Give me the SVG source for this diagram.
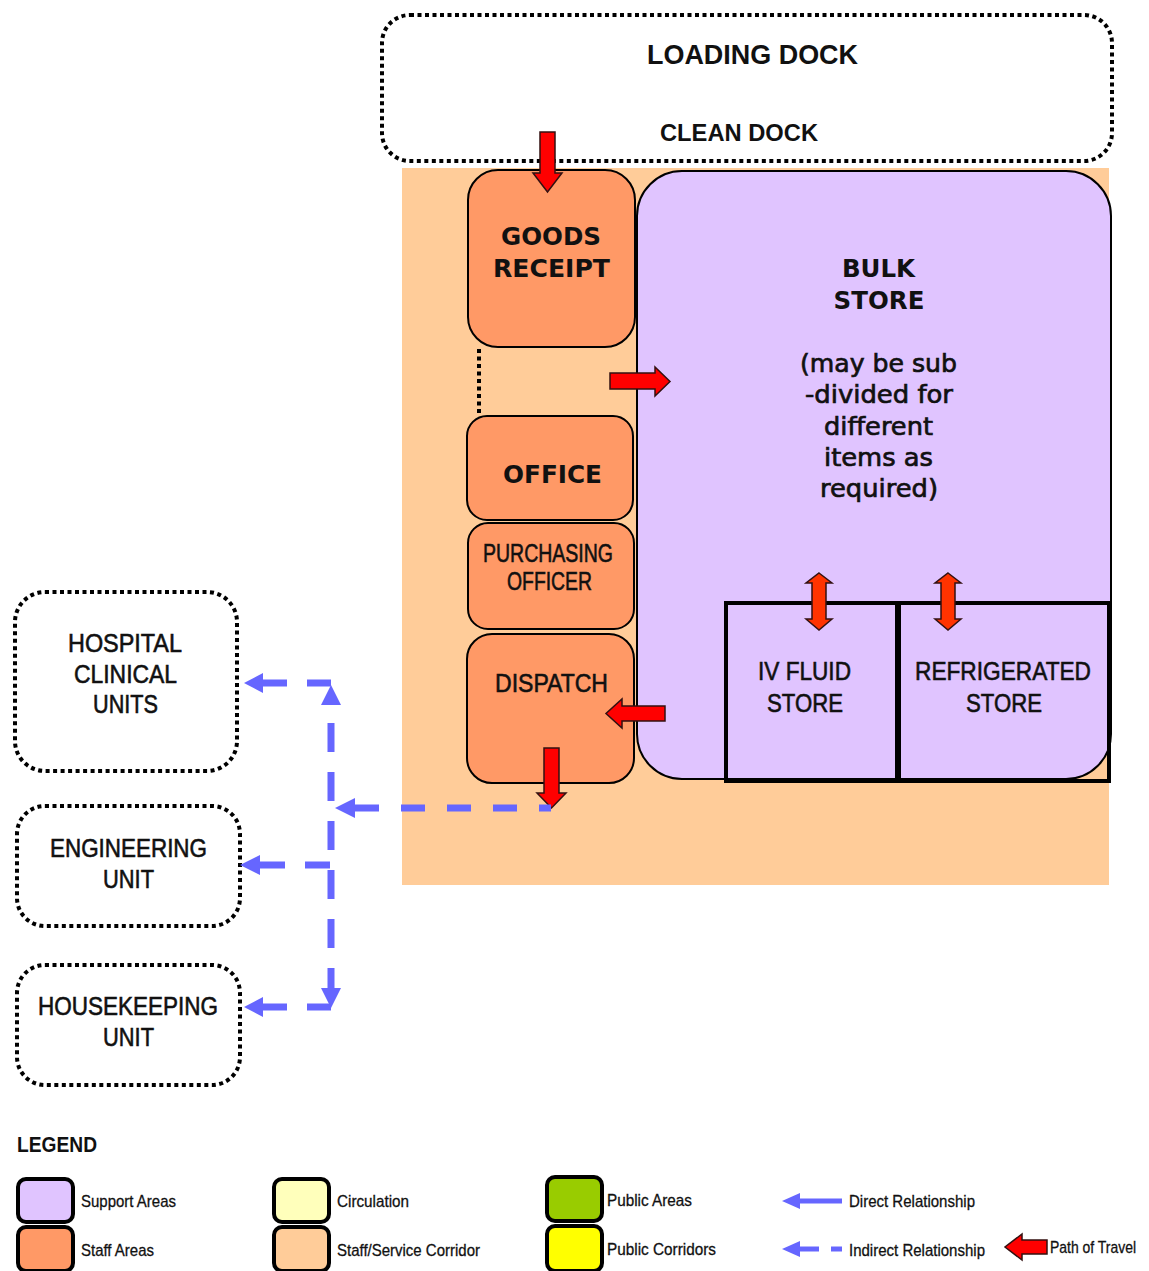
<svg xmlns="http://www.w3.org/2000/svg" width="1149" height="1271" viewBox="0 0 1149 1271">
<style>
.dot{fill:#fff;stroke:#000;stroke-width:4;stroke-dasharray:4 3.5}
.staff{fill:#FF9966;stroke:#000;stroke-width:2}
.sup{fill:#E0C4FF;stroke:#000;stroke-width:2}
.sub{fill:none;stroke:#000;stroke-width:4}
.red{fill:#FF0000;stroke:#331111;stroke-width:1.5;stroke-linejoin:miter}
.red2{fill:#FF3300;stroke:#331111;stroke-width:1.5}
.blue{fill:none;stroke:#6666FF;stroke-width:7}
.bh{fill:#6666FF}
.ar{font-family:"Liberation Sans",Arial,sans-serif;font-size:26px;fill:#111;text-anchor:middle;stroke:#111;stroke-width:0.6}
.vb{font-family:"DejaVu Sans",Verdana,sans-serif;font-weight:bold;font-size:24.5px;fill:#111;text-anchor:middle}
.vr{font-family:"DejaVu Sans",Verdana,sans-serif;font-size:25px;fill:#111;text-anchor:middle;stroke:#111;stroke-width:0.7}
.ab{font-family:"Liberation Sans",Arial,sans-serif;font-weight:bold;fill:#111;text-anchor:middle}
.lg{font-family:"Liberation Sans",Arial,sans-serif;font-size:17px;fill:#111;stroke:#111;stroke-width:0.3}
.sw{stroke:#000;stroke-width:4}
</style>
<rect id="corridor" x="402" y="168" width="707" height="717" fill="#FFCC99"/>
<g id="loading-dock">
<rect class="dot" x="382" y="15" width="730" height="146" rx="28"/>
<text class="ab" x="752.5" y="64" font-size="27" textLength="211" lengthAdjust="spacingAndGlyphs">LOADING DOCK</text>
<text class="ab" x="739" y="141" font-size="24" textLength="158" lengthAdjust="spacingAndGlyphs">CLEAN DOCK</text>
</g>
<g id="bulk-store">
<rect class="sup" x="637" y="171" width="474" height="608" rx="45"/>
<text class="vb" x="878.5" y="277">BULK</text>
<text class="vb" x="879" y="309">STORE</text>
<text class="vr" x="878.5" y="372" textLength="157" lengthAdjust="spacingAndGlyphs">(may be sub</text>
<text class="vr" x="879" y="403" textLength="148" lengthAdjust="spacingAndGlyphs">-divided for</text>
<text class="vr" x="878.5" y="435" textLength="109" lengthAdjust="spacingAndGlyphs">different</text>
<text class="vr" x="878.5" y="466" textLength="109" lengthAdjust="spacingAndGlyphs">items as</text>
<text class="vr" x="879" y="497" textLength="118" lengthAdjust="spacingAndGlyphs">required)</text>
</g>
<g id="iv-fluid-store">
<rect class="sub" x="726" y="603" width="171" height="178"/>
<text class="ar" x="804.5" y="680" font-size="25" textLength="93" lengthAdjust="spacingAndGlyphs">IV FLUID</text>
<text class="ar" x="805" y="712" font-size="25" textLength="76" lengthAdjust="spacingAndGlyphs">STORE</text>
</g>
<g id="refrigerated-store">
<rect class="sub" x="899" y="603" width="210" height="178"/>
<text class="ar" x="1003" y="680" font-size="25" textLength="176" lengthAdjust="spacingAndGlyphs">REFRIGERATED</text>
<text class="ar" x="1004" y="712" font-size="25" textLength="76" lengthAdjust="spacingAndGlyphs">STORE</text>
</g>
<g id="goods-receipt">
<rect class="staff" x="468" y="170" width="167" height="177" rx="30"/>
<text class="vb" x="551" y="245" textLength="100" lengthAdjust="spacingAndGlyphs">GOODS</text>
<text class="vb" x="551.5" y="277" textLength="117" lengthAdjust="spacingAndGlyphs">RECEIPT</text>
</g>
<g id="office">
<rect class="staff" x="467" y="416" width="166" height="104" rx="20"/>
<text class="vb" x="552.5" y="483" font-size="26" textLength="99" lengthAdjust="spacingAndGlyphs">OFFICE</text>
</g>
<g id="purchasing-officer">
<rect class="staff" x="468" y="523" width="166" height="106" rx="20"/>
<text class="ar" x="548" y="562" font-size="20" textLength="130" lengthAdjust="spacingAndGlyphs">PURCHASING</text>
<text class="ar" x="549.5" y="590" font-size="20" textLength="85" lengthAdjust="spacingAndGlyphs">OFFICER</text>
</g>
<g id="dispatch">
<rect class="staff" x="467" y="634" width="167" height="149" rx="25"/>
<text class="ar" x="551.5" y="692" textLength="113" lengthAdjust="spacingAndGlyphs">DISPATCH</text>
</g>
<g id="hospital-clinical-units">
<rect class="dot" x="15" y="592" width="222" height="179" rx="30"/>
<text class="ar" x="125" y="652" textLength="114" lengthAdjust="spacingAndGlyphs">HOSPITAL</text>
<text class="ar" x="125.5" y="683" textLength="103" lengthAdjust="spacingAndGlyphs">CLINICAL</text>
<text class="ar" x="125.5" y="713" textLength="65" lengthAdjust="spacingAndGlyphs">UNITS</text>
</g>
<g id="engineering-unit">
<rect class="dot" x="17" y="806" width="223" height="120" rx="28"/>
<text class="ar" x="128.5" y="857" textLength="157" lengthAdjust="spacingAndGlyphs">ENGINEERING</text>
<text class="ar" x="128.5" y="888" textLength="51" lengthAdjust="spacingAndGlyphs">UNIT</text>
</g>
<g id="housekeeping-unit">
<rect class="dot" x="17" y="965" width="223" height="120" rx="28"/>
<text class="ar" x="128" y="1015" textLength="180" lengthAdjust="spacingAndGlyphs">HOUSEKEEPING</text>
<text class="ar" x="128.5" y="1046" textLength="51" lengthAdjust="spacingAndGlyphs">UNIT</text>
</g>
<g id="connectors">
<line x1="479" y1="349" x2="479" y2="414" stroke="#000" stroke-width="4" stroke-dasharray="4 3.5"/>
<polygon class="red" points="540,132 555,132 555,173 562,173 547.5,192 533,173 540,173"/>
<polygon class="red" points="610,373 655,373 655,367 670,381.5 655,396 655,389 610,389"/>
<polygon class="red" points="665,706 622,706 622,699 606,713.5 622,728 622,721 665,721"/>
<polygon class="red" points="544,748 559,748 559,793 566,793 551.5,808 537,793 544,793"/>
<polygon class="red2" points="819,573 832,583 826,583 826,619 832,619 819,630 806,619 812,619 812,583 806,583"/>
<polygon class="red2" points="948,573 961,583 955,583 955,619 961,619 948,630 935,619 941,619 941,583 935,583"/>
<line class="blue" x1="355" y1="808" x2="551" y2="808" stroke-dasharray="24 22"/>
<polygon class="bh" points="335,808 355,798 355,818"/>
<line class="blue" x1="331" y1="723" x2="331" y2="988" stroke-dasharray="29 20"/>
<polygon class="bh" points="331,685 341,705 321,705"/>
<polygon class="bh" points="331,1008 341,988 321,988"/>
<line class="blue" x1="263" y1="683" x2="331" y2="683" stroke-dasharray="24 20"/>
<polygon class="bh" points="244,683 263,673 263,693"/>
<line class="blue" x1="260" y1="865" x2="330" y2="865" stroke-dasharray="25 20"/>
<polygon class="bh" points="240,865 260,855 260,875"/>
<line class="blue" x1="263" y1="1007" x2="331" y2="1007" stroke-dasharray="24 20"/>
<polygon class="bh" points="244,1007 263,997 263,1017"/>
</g>
<g id="legend">
<text x="17" y="1152" font-family="Liberation Sans, Arial, sans-serif" font-weight="bold" font-size="22" fill="#111" textLength="80" lengthAdjust="spacingAndGlyphs">LEGEND</text>
<rect class="sw" x="18" y="1179" width="55" height="43" rx="8" fill="#E0C4FF"/>
<rect class="sw" x="18" y="1227" width="55" height="44" rx="8" fill="#FF9966"/>
<rect class="sw" x="274" y="1179" width="55" height="43" rx="8" fill="#FFFFBB"/>
<rect class="sw" x="274" y="1227" width="55" height="44" rx="8" fill="#FFCC99"/>
<rect class="sw" x="547" y="1177" width="55" height="44" rx="8" fill="#99CC00"/>
<rect class="sw" x="547" y="1226" width="55" height="45" rx="8" fill="#FFFF00"/>
<text class="lg" x="81" y="1207" textLength="95" lengthAdjust="spacingAndGlyphs">Support Areas</text>
<text class="lg" x="81" y="1256" textLength="73" lengthAdjust="spacingAndGlyphs">Staff Areas</text>
<text class="lg" x="337" y="1207" textLength="72" lengthAdjust="spacingAndGlyphs">Circulation</text>
<text class="lg" x="337" y="1256" textLength="143" lengthAdjust="spacingAndGlyphs">Staff/Service Corridor</text>
<text class="lg" x="607" y="1206" textLength="85" lengthAdjust="spacingAndGlyphs">Public Areas</text>
<text class="lg" x="607" y="1255" textLength="109" lengthAdjust="spacingAndGlyphs">Public Corridors</text>
<text class="lg" x="849" y="1207" textLength="126" lengthAdjust="spacingAndGlyphs">Direct Relationship</text>
<text class="lg" x="849" y="1256" textLength="136" lengthAdjust="spacingAndGlyphs">Indirect Relationship</text>
<text class="lg" x="1050" y="1253" font-size="14" textLength="86" lengthAdjust="spacingAndGlyphs">Path of Travel</text>
<line x1="799" y1="1201" x2="842" y2="1201" stroke="#6666FF" stroke-width="5"/>
<polygon class="bh" points="782,1201 800,1193 800,1209"/>
<line x1="799" y1="1249" x2="819" y2="1249" stroke="#6666FF" stroke-width="5"/>
<line x1="831" y1="1249" x2="842" y2="1249" stroke="#6666FF" stroke-width="5"/>
<polygon class="bh" points="782,1249 800,1241 800,1257"/>
<polygon class="red" points="1047,1240 1022,1240 1022,1234 1005,1247 1022,1260 1022,1254 1047,1254"/>
</g>
</svg>
